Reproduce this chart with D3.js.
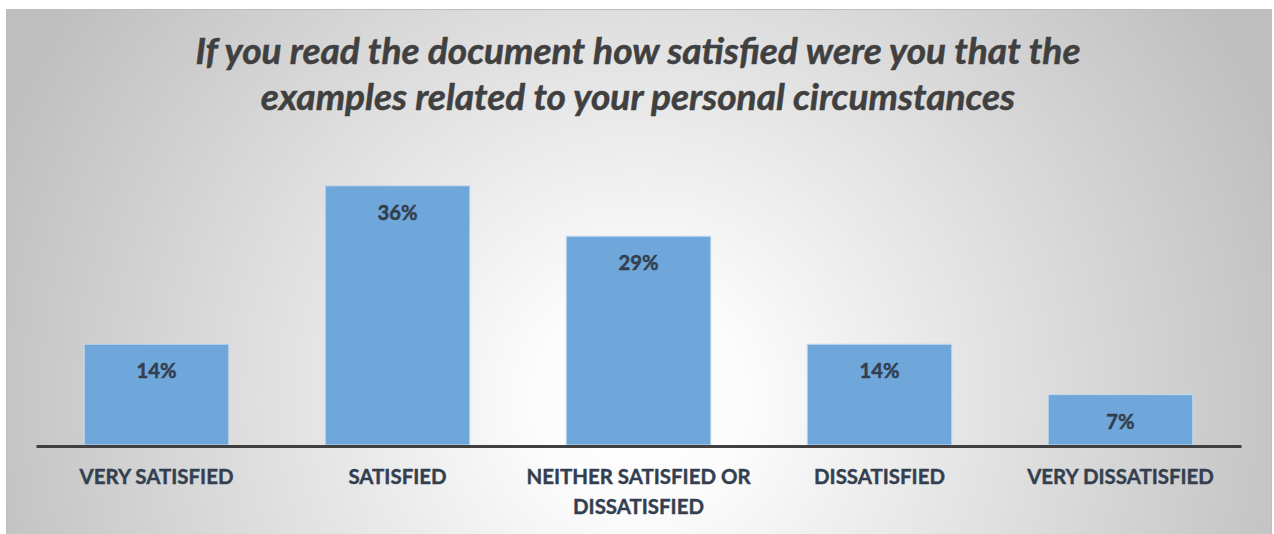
<!DOCTYPE html>
<html>
<head>
<meta charset="utf-8">
<script src="https://cdn.jsdelivr.net/npm/d3@7"></script>
<style>
  html, body { margin: 0; padding: 0; background: #ffffff; }
  svg { display: block; }
</style>
</head>
<body>
<svg id="chart" width="1274" height="534"></svg>
<script>
// Survey responses: share of respondents per satisfaction level
const categories = [
  ["VERY SATISFIED"],
  ["SATISFIED"],
  ["NEITHER SATISFIED OR", "DISSATISFIED"],
  ["DISSATISFIED"],
  ["VERY DISSATISFIED"]
];
const values = [0.14, 0.36, 0.29, 0.14, 0.07];
const titleLines = [
  "If you read the document how satisfied were you that the",
  "examples related to your personal circumstances"
];

const W = 1274, H = 534;
const svg = d3.select("#chart");
const FONT = "Lato, 'Open Sans', sans-serif";

// radial background
const defs = svg.append("defs");
const grad = defs.append("radialGradient")
  .attr("id", "bg")
  .attr("gradientUnits", "userSpaceOnUse")
  .attr("cx", 640).attr("cy", 400).attr("r", 690);
grad.append("stop").attr("offset", 0).attr("stop-color", "#ffffff");
grad.append("stop").attr("offset", 0.15).attr("stop-color", "#fcfcfc");
grad.append("stop").attr("offset", 1).attr("stop-color", "#bfbfbf");

svg.append("rect")
  .attr("x", 6.5).attr("y", 9.5)
  .attr("width", 1265).attr("height", 530)
  .attr("fill", "url(#bg)")
  .attr("stroke", "#bdbdbd").attr("stroke-width", 1);

// scales
const idx = d3.range(values.length);
const x = d3.scaleBand().domain(idx).range([36, 1241]).paddingInner(0.4).paddingOuter(0.2);
const y = d3.scaleLinear().domain([0, 0.4]).range([445, 157]);

// title
const title = svg.append("text")
  .attr("text-anchor", "middle")
  .attr("font-family", FONT)
  .attr("font-weight", "bold")
  .attr("font-style", "italic")
  .attr("fill", "#404040")
  .attr("stroke", "#404040")
  .attr("stroke-width", 0.5);
titleLines.forEach((t, i) => {
  title.append("tspan").attr("x", 638).attr("y", 64 + i * 46).text(t);
});
// size the title so its first line spans the intended width
title.attr("font-size", 30);
{
  const w = title.select("tspan").node().getComputedTextLength();
  title.attr("font-size", 30 * 885 / w);
}

// bars
svg.append("g").selectAll("rect")
  .data(values)
  .join("rect")
  .attr("x", (d, i) => x(i))
  .attr("y", d => y(d))
  .attr("width", x.bandwidth())
  .attr("height", d => y(0) - y(d))
  .attr("fill", "#70a7da")
  .attr("stroke", "#c4daef")
  .attr("stroke-width", 1);

// value labels
const fmt = d3.format(".0%");
const vlab = svg.append("g")
  .attr("font-family", FONT)
  .attr("font-weight", "bold")
  .attr("fill", "#333f50")
  .attr("stroke", "#333f50")
  .attr("stroke-width", 0.5)
  .attr("text-anchor", "middle");
vlab.selectAll("text")
  .data(values)
  .join("text")
  .attr("x", (d, i) => x(i) + x.bandwidth() / 2)
  .attr("y", d => y(d) + 34)
  .attr("font-size", 19)
  .text(d => fmt(d));
{
  const w = vlab.select("text").node().getComputedTextLength();
  vlab.selectAll("text").attr("font-size", 19 * 40 / w);
}

// baseline axis
const axis = svg.append("g").attr("transform", `translate(0,${y(0) + 1})`)
  .call(d3.axisBottom(x).tickSize(0).tickFormat(""));
axis.select(".domain").attr("stroke", "#404040").attr("stroke-width", 3);

// category labels
const clab = svg.append("g")
  .attr("font-family", FONT)
  .attr("font-weight", "bold")
  .attr("fill", "#333f50")
  .attr("stroke", "#333f50")
  .attr("stroke-width", 0.4)
  .attr("text-anchor", "middle")
  .attr("font-size", 19);
categories.forEach((lines, i) => {
  const t = clab.append("text");
  lines.forEach((l, j) => {
    t.append("tspan")
      .attr("x", x(i) + x.bandwidth() / 2)
      .attr("y", 484 + j * 29.5)
      .text(l);
  });
});
{
  const w = clab.select("text tspan").node().getComputedTextLength();
  clab.attr("font-size", 19 * 154 / w);
}
</script>
</body>
</html>
